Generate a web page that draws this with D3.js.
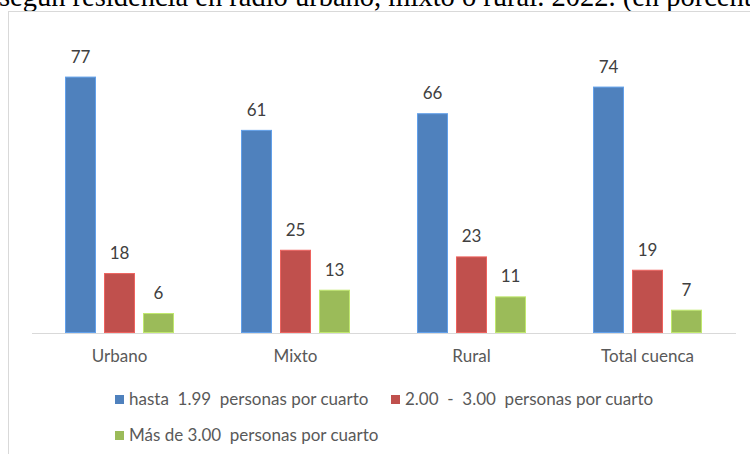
<!DOCTYPE html>
<html>
<head>
<meta charset="utf-8">
<script src="https://cdn.jsdelivr.net/npm/d3@7"></script>
<style>
  body { margin: 0; background: #fff; }
  svg { display: block; }
  text { white-space: pre; }
</style>
</head>
<body>
<div id="chart"></div>
<script>
var width = 750;
var height = 454;

// data
var categories = ["Urbano", "Mixto", "Rural", "Total cuenca"];
var seriesNames = [
  "hasta  1.99  personas por cuarto",
  "2.00  -  3.00  personas por cuarto",
  "Más de 3.00  personas por cuarto"
];
var seriesColors = ["#4f81bd", "#c0504d", "#9bbb59"];
var hastaValues = [77, 61, 66, 74];
var medioValues = [18, 25, 23, 19];
var masValues = [6, 13, 11, 7];
var titleText = "según residencia en radio urbano, mixto o rural. 2022. (en porcentaje)";

var allValues = [hastaValues, medioValues, masValues];
var labelFont = "Lato, sans-serif";

var svg = d3.select("#chart")
  .append("svg")
  .attr("width", width)
  .attr("height", height);

// title line of the document, cut by the top edge
svg.append("text")
  .attr("x", -1)
  .attr("y", 6)
  .attr("font-family", "Liberation Serif, Times New Roman, serif")
  .attr("font-size", 28.5)
  .attr("fill", "#000")
  .text(titleText);

// chart frame
svg.append("rect")
  .attr("x", 8.5)
  .attr("y", 11.5)
  .attr("width", 760)
  .attr("height", 470)
  .attr("fill", "#fff")
  .attr("stroke", "#d9d9d9");

var x0 = d3.scaleBand()
  .domain(categories)
  .range([31.5, 735.5]);

var x1 = d3.scaleBand()
  .domain(d3.range(seriesNames.length))
  .range([33.5, 142.5])
  .paddingInner(8 / 39);

var y = d3.scaleLinear()
  .domain([0, 100])
  .range([333, 0]);

var groups = svg.selectAll("g.cat")
  .data(categories)
  .enter()
  .append("g")
  .attr("class", "cat")
  .attr("transform", function(d) { return "translate(" + x0(d) + ",0)"; });

groups.each(function(cat, ci) {
  var g = d3.select(this);
  var rows = allValues.map(function(vals, si) { return { s: si, v: vals[ci] }; });

  g.selectAll("rect")
    .data(rows)
    .enter()
    .append("rect")
    .attr("x", function(d) { return x1(d.s) + 0.5; })
    .attr("y", function(d) { return y(d.v) + 0.5; })
    .attr("width", x1.bandwidth() - 1)
    .attr("height", function(d) { return y(0) - y(d.v) - 1; })
    .attr("fill", function(d) { return seriesColors[d.s]; })
    .attr("stroke", function(d) { return d3.color(seriesColors[d.s]).brighter(0.6); })
    .attr("stroke-width", 1);

  g.selectAll("text.val")
    .data(rows)
    .enter()
    .append("text")
    .attr("class", "val")
    .attr("x", function(d) { return x1(d.s) + x1.bandwidth() / 2; })
    .attr("y", function(d) { return y(d.v) - 14; })
    .attr("text-anchor", "middle")
    .attr("font-family", labelFont)
    .attr("font-size", 17)
    .attr("fill", "#404040")
    .text(function(d) { return d.v; });
});

// baseline axis
var xAxis = d3.axisBottom(x0).tickSize(0).tickPadding(17);
var axisG = svg.append("g")
  .attr("transform", "translate(0," + y(0) + ")")
  .call(xAxis);
axisG.select(".domain").attr("stroke", "#d9d9d9");
axisG.selectAll("text")
  .attr("font-family", labelFont)
  .attr("font-size", 17)
  .attr("fill", "#595959");

// legend
var legendPos = [[115, 395], [391, 395], [115, 431]];
var legend = svg.selectAll("g.legend")
  .data(seriesNames)
  .enter()
  .append("g")
  .attr("class", "legend")
  .attr("transform", function(d, i) {
    return "translate(" + legendPos[i][0] + "," + legendPos[i][1] + ")";
  });

legend.append("rect")
  .attr("width", 9)
  .attr("height", 9)
  .attr("fill", function(d, i) { return seriesColors[i]; });

legend.append("text")
  .attr("x", 14)
  .attr("y", 10)
  .attr("font-family", labelFont)
  .attr("font-size", 17)
  .attr("fill", "#595959")
  .text(function(d) { return d; });
</script>
</body>
</html>
